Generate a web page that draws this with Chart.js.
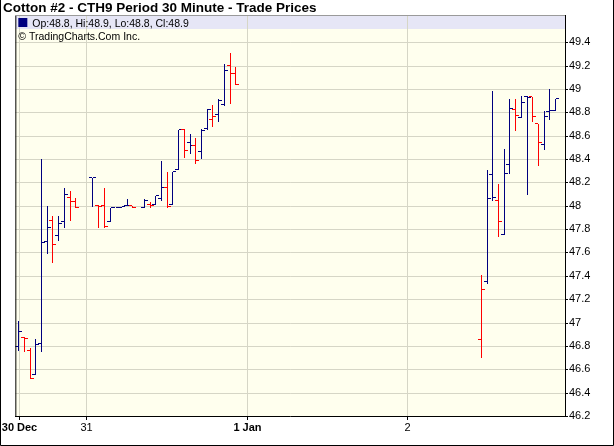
<!DOCTYPE html>
<html>
<head>
<meta charset="utf-8">
<script src="https://cdn.jsdelivr.net/npm/chart.js@4.4.0/dist/chart.umd.min.js"></script>
<style>
  html, body { margin: 0; padding: 0; background: #fff; }
  #wrap { width: 614px; height: 446px; }
</style>
</head>
<body>
<div id="wrap"><canvas id="chart" width="614" height="446"></canvas></div>
<script>
"use strict";

// ---------- data ----------
const TITLE = "Cotton #2 - CTH9 Period 30 Minute - Trade Prices";
const CREDIT = "\u00A9 TradingCharts.Com Inc.";

// 30-minute bar slots (gaps = no trading)
const slots = [0, 1, 2, 3, 4, 5, 6, 7, 8, 9, 10,
  13, 14, 15, 16, 17, 18, 19, 20,
  22, 23, 24, 25, 26, 27, 28, 29, 30, 31, 32, 33, 34, 35, 36, 37, 38,
  81, 82, 83, 84, 85, 86, 87, 88, 89, 90, 91, 92, 93, 94];

const opens = [46.79, 46.87, 46.76, 46.55, 46.82, 47.69, 47.87, 47.74, 47.86, 48.07, 48.03,
  48.24, 48.00, 48.00, 47.86, 47.98, 47.98, 48.00, 48.00,
  47.98, 48.01, 48.01, 48.06, 48.15, 48.01, 48.31, 48.65, 48.54, 48.51, 48.46, 48.66, 48.73, 48.78, 48.86, 49.20, 49.13,
  46.85, 47.35, 48.26, 48.04, 47.75, 48.35, 48.82, 48.75, 48.93, 48.93, 48.70, 48.52, 48.80, 48.81];

const highs = [47.01, 46.88, 46.78, 46.86, 48.40, 48.00, 47.91, 47.91, 48.15, 48.13, 48.07,
  48.24, 48.01, 48.15, 47.98, 47.98, 47.99, 48.06, 48.00,
  48.06, 48.03, 48.08, 48.38, 48.29, 48.29, 48.65, 48.66, 48.61, 48.58, 48.66, 48.83, 48.86, 48.91, 49.21, 49.31, 49.19,
  47.41, 48.31, 48.98, 48.19, 48.49, 48.91, 48.91, 48.94, 48.94, 48.93, 48.70, 48.81, 49.00, 48.91];

const lows = [46.76, 46.75, 46.52, 46.55, 46.75, 47.59, 47.51, 47.70, 47.81, 47.87, 47.98,
  47.99, 47.81, 47.81, 47.86, 47.98, 47.98, 48.00, 47.98,
  47.98, 47.98, 48.01, 48.04, 47.98, 48.01, 48.31, 48.41, 48.44, 48.36, 48.40, 48.65, 48.67, 48.72, 48.85, 48.87, 49.03,
  46.70, 47.33, 48.04, 47.73, 47.75, 48.27, 48.64, 48.75, 48.09, 48.72, 48.34, 48.48, 48.73, 48.81];

const closes = [46.92, 46.86, 46.52, 46.81, 47.68, 47.81, 47.66, 47.84, 48.09, 48.03, 47.98,
  48.24, 47.99, 47.82, 47.98, 47.98, 47.99, 48.00, 47.98,
  48.04, 48.00, 48.08, 48.15, 47.99, 48.29, 48.65, 48.47, 48.51, 48.38, 48.64, 48.82, 48.76, 48.90, 49.15, 49.13, 49.03,
  47.28, 48.06, 48.07, 47.86, 48.27, 48.83, 48.77, 48.88, 48.92, 48.76, 48.54, 48.76, 48.81, 48.91];

const xTickSlots = [0.07, 11.84, 40.06, 68.11];
const xTickLabels = ["30 Dec", "31", "1 Jan", "2"];

const yTicks = [46.2, 46.4, 46.6, 46.8, 47, 47.2, 47.4, 47.6, 47.8, 48, 48.2, 48.4, 48.6, 48.8, 49, 49.2, 49.4];

// ---------- style ----------
const FONT = '"Liberation Sans", Arial, sans-serif';
const NAVY = "#000080";
const RED = "#ff0000";
const GRID = "#d6d6c6";
const CREAM = "#ffffee";
const LAVENDER = "#e6e6f6";

Chart.defaults.font.family = FONT;
Chart.defaults.color = "#000";

// linear scales that land marks on whole pixels so 1px bars stay crisp
class SnapX extends Chart.LinearScale {
  getPixelForValue(v) { return Math.floor(super.getPixelForValue(v)) + 0.5; }
}
SnapX.id = "snapX";
SnapX.defaults = Chart.LinearScale.defaults;
class SnapY extends Chart.LinearScale {
  getPixelForValue(v) { return Math.round(super.getPixelForValue(v)); }
}
SnapY.id = "snapY";
SnapY.defaults = Chart.LinearScale.defaults;
Chart.register(SnapX, SnapY);

// up/down relative to previous close
const barColors = closes.map((c, i) => (i === 0 || c >= closes[i - 1] ? NAVY : RED));

const tickImage = (color, side) => {
  const c = document.createElement("canvas");
  c.width = 7;
  c.height = 2;
  const g = c.getContext("2d");
  g.fillStyle = color;
  g.fillRect(side === "left" ? 0 : 4, 0, 3, 1);
  return c;
};
const openImg = { [NAVY]: tickImage(NAVY, "left"), [RED]: tickImage(RED, "left") };
const closeImg = { [NAVY]: tickImage(NAVY, "right"), [RED]: tickImage(RED, "right") };

// ---------- frame / title / info box ----------
const framePlugin = {
  id: "frame",
  beforeDraw(chart) {
    const { ctx, chartArea: a } = chart;
    ctx.save();
    ctx.fillStyle = "#fff";
    ctx.fillRect(0, 0, chart.width, chart.height);
    ctx.fillStyle = CREAM;
    ctx.fillRect(a.left, a.top, a.right - a.left, a.bottom - a.top);
    ctx.fillStyle = LAVENDER;
    ctx.fillRect(a.left, a.top, a.right - a.left, 14);
    ctx.restore();
  },
  afterDraw(chart) {
    const { ctx, chartArea: a } = chart;
    const n = closes.length - 1;
    ctx.save();
    // plot border left/top
    ctx.strokeStyle = "#000";
    ctx.lineWidth = 1;
    ctx.beginPath();
    ctx.moveTo(a.left + 0.5, a.bottom);
    ctx.lineTo(a.left + 0.5, a.top + 0.5);
    ctx.stroke();
    ctx.strokeStyle = "#9a9a9a";
    ctx.beginPath();
    ctx.moveTo(a.left, a.top + 0.5);
    ctx.lineTo(a.right, a.top + 0.5);
    ctx.stroke();
    // outer frame
    ctx.strokeStyle = "#000";
    ctx.beginPath();
    ctx.moveTo(0.5, 0);
    ctx.lineTo(0.5, chart.height - 0.5);
    ctx.lineTo(chart.width - 0.5, chart.height - 0.5);
    ctx.lineTo(chart.width - 0.5, 0);
    ctx.stroke();
    // title
    ctx.fillStyle = "#000";
    ctx.textBaseline = "alphabetic";
    ctx.font = "bold 13.5px " + FONT;
    ctx.fillText(TITLE, 3, 12);
    // info rows
    ctx.fillStyle = NAVY;
    ctx.fillRect(a.left + 3, a.top + 3, 9, 9);
    ctx.fillStyle = "#000";
    ctx.font = "10.5px " + FONT;
    const f = (v) => v.toFixed(1);
    ctx.fillText(`Op:${f(opens[n])}, Hi:${f(highs[n])}, Lo:${f(lows[n])}, Cl:${f(closes[n])}`, a.left + 17, a.top + 11.5);
    ctx.fillText(CREDIT, a.left + 3, a.top + 25);
    ctx.restore();
  },
};

// ---------- chart ----------
new Chart(document.getElementById("chart"), {
  type: "bar",
  data: {
    datasets: [
      {
        type: "bar",
        data: slots.map((s, i) => ({ x: s, y: [lows[i], highs[i]] })),
        backgroundColor: barColors,
        borderWidth: 0,
        barThickness: 1,
        inflateAmount: 0,
        grouped: false,
      },
      {
        type: "scatter",
        data: slots.map((s, i) => ({ x: s, y: opens[i] })),
        pointStyle: (c) => openImg[barColors[c.dataIndex]],
        pointRadius: 3,
      },
      {
        type: "scatter",
        data: slots.map((s, i) => ({ x: s, y: closes[i] })),
        pointStyle: (c) => closeImg[barColors[c.dataIndex]],
        pointRadius: 3,
      },
    ],
  },
  options: {
    responsive: false,
    animation: false,
    events: [],
    layout: { padding: { left: 15, top: 15, right: 0, bottom: 0 } },
    plugins: { legend: { display: false }, tooltip: { enabled: false }, title: { display: false } },
    scales: {
      x: {
        type: "snapX",
        position: "bottom",
        min: -0.577,
        max: 95.63,
        offset: false,
        afterBuildTicks: (s) => { s.ticks = xTickSlots.map((v) => ({ value: v })); },
        afterFit: (s) => { s.height = 30; },
        ticks: {
          autoSkip: false,
          maxRotation: 0,
          padding: 1,
          color: "#000",
          callback: (v, i) => xTickLabels[i],
          font: (c) => ({ family: FONT, size: 11, weight: xTickLabels[c.index] && xTickLabels[c.index].includes(" ") ? "bold" : "normal" }),
        },
        grid: { color: GRID, lineWidth: 1, offset: false, tickLength: 4, tickColor: "#000" },
        border: { color: "#000", width: 1 },
      },
      y: {
        type: "snapY",
        position: "right",
        min: 46.2,
        max: 49.633,
        afterBuildTicks: (s) => { s.ticks = yTicks.map((v) => ({ value: v })); },
        afterFit: (s) => { s.width = 49; },
        ticks: {
          autoSkip: false,
          padding: 1,
          color: "#000",
          font: { family: FONT, size: 11 },
          callback: (v) => String(v),
        },
        grid: { color: GRID, lineWidth: 1, tickLength: 3, tickColor: "#000" },
        border: { color: "#000", width: 1 },
      },
    },
  },
  plugins: [framePlugin],
});
</script>
</body>
</html>
